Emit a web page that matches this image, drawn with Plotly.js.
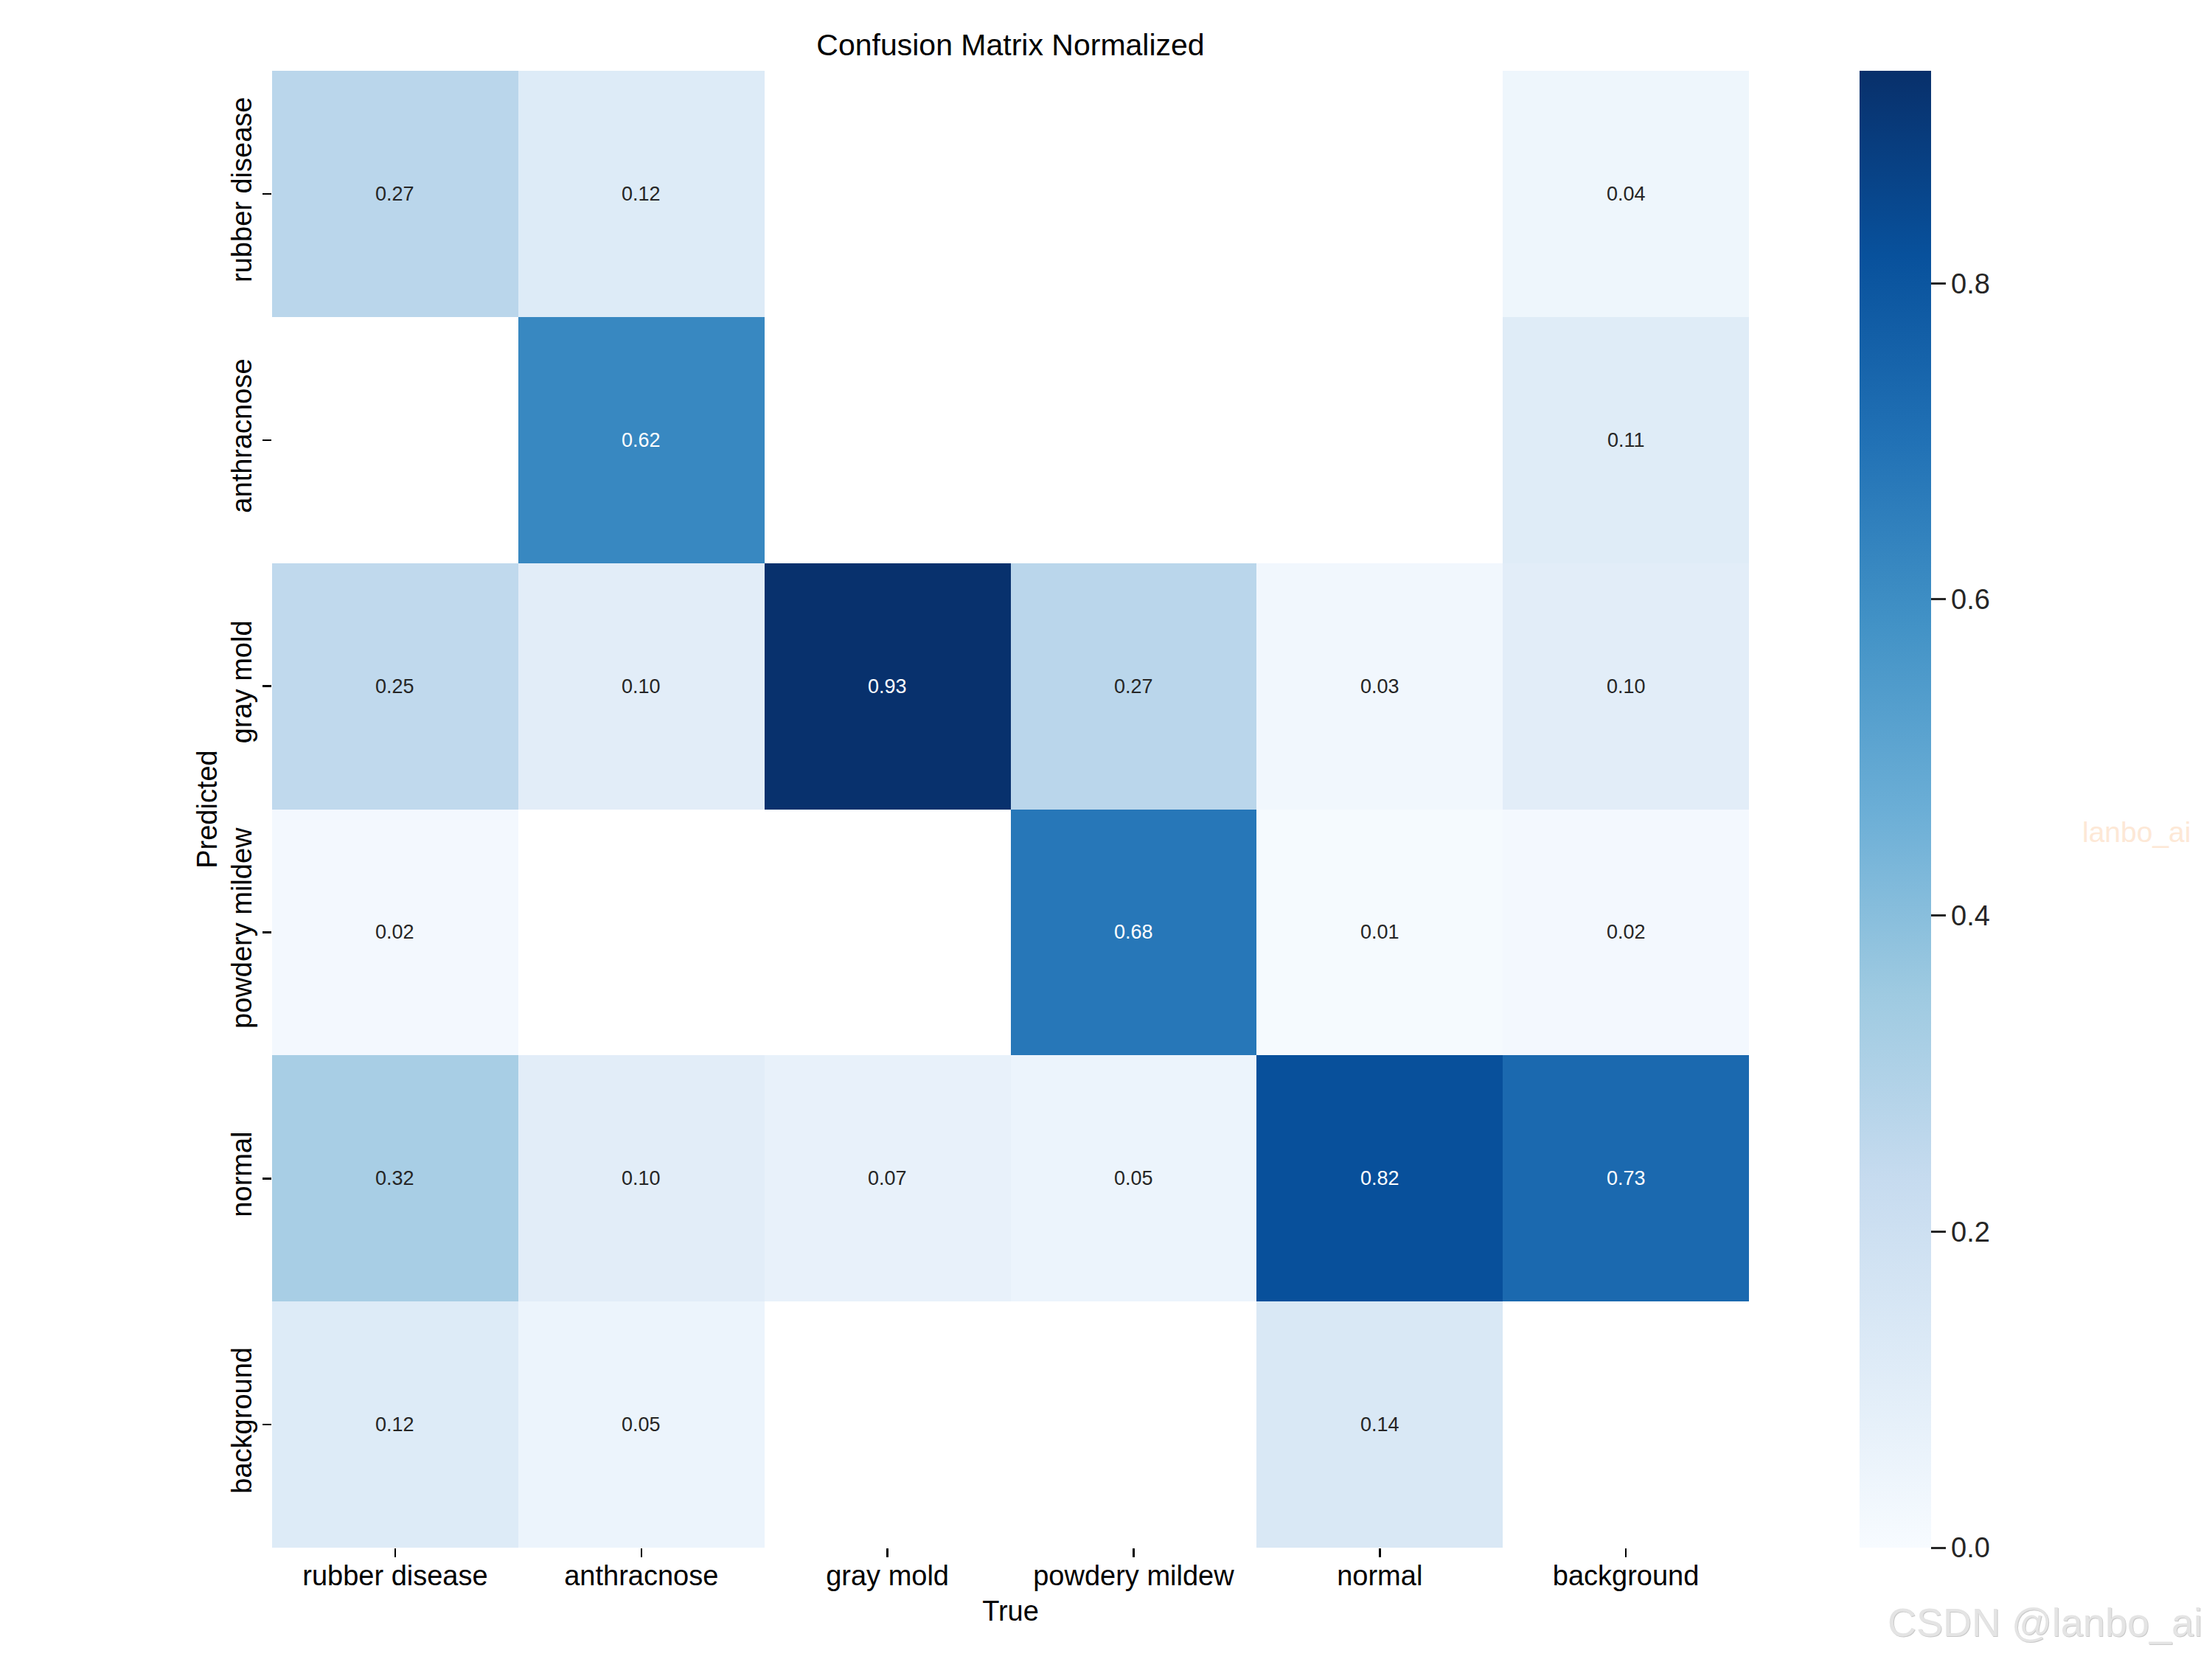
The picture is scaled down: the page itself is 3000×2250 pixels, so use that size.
<!DOCTYPE html>
<html>
<head>
<meta charset="utf-8">
<script src="https://cdn.plot.ly/plotly-3.0.1.min.js"></script>
<style>html,body{margin:0;padding:0;background:#fff;}#chart{width:3000px;height:2250px;}</style>
</head>
<body>
<div id="chart"></div>
<script>
// Column labels (True) and row labels (Predicted)
const trueLabels = ["rubber disease", "anthracnose", "gray mold", "powdery mildew", "normal", "background"];
const predLabels = ["rubber disease", "anthracnose", "gray mold", "powdery mildew", "normal", "background"];

// Normalized confusion-matrix rows (Predicted), null = empty (white) cell
const rowRubberDisease = [0.27, 0.12, null, null, null, 0.04];
const rowAnthracnose   = [null, 0.62, null, null, null, 0.11];
const rowGrayMold      = [0.25, 0.10, 0.93, 0.27, 0.03, 0.10];
const rowPowderyMildew = [0.02, null, null, 0.68, 0.01, 0.02];
const rowNormal        = [0.32, 0.10, 0.07, 0.05, 0.82, 0.73];
const rowBackground    = [0.12, 0.05, null, null, 0.14, null];

const colorbarTicks = [0, 0.2, 0.4, 0.6, 0.8];
const colorMax = 0.9345;

const z = [rowRubberDisease, rowAnthracnose, rowGrayMold, rowPowderyMildew, rowNormal, rowBackground];

const blues = [
  [0.0, "#f7fbff"], [0.125, "#deebf7"], [0.25, "#c6dbef"], [0.375, "#9ecae1"],
  [0.5, "#6baed6"], [0.625, "#4292c6"], [0.75, "#2171b5"], [0.875, "#08519c"], [1.0, "#08306b"]
];

const FONT = "Liberation Sans, Arial, Helvetica, sans-serif";

const annotations = [];
z.forEach((row, i) => {
  row.forEach((v, j) => {
    if (v === null) return;
    annotations.push({
      x: trueLabels[j], y: predLabels[i], xref: "x", yref: "y",
      text: v.toFixed(2), showarrow: false,
      font: {family: FONT, size: 27, color: (v / colorMax) > 0.55 ? "#ffffff" : "#262626"}
    });
  });
});

// watermarks
annotations.push({
  xref: "paper", yref: "paper", x: 1.2625, y: 0.4846, xanchor: "center", yanchor: "middle",
  text: "lanbo_ai", showarrow: false, font: {family: FONT, size: 39, color: "#fde8d6"}
});
annotations.push({
  xref: "paper", yref: "paper", x: 1.2010, y: -0.0509, xanchor: "center", yanchor: "middle",
  text: "CSDN @lanbo_ai", showarrow: false, font: {family: FONT, size: 54, color: "#c9c9c9"}
});
annotations.push({
  xref: "paper", yref: "paper", x: 1.2005, y: -0.0504, xanchor: "center", yanchor: "middle",
  text: "CSDN @lanbo_ai", showarrow: false, font: {family: FONT, size: 54, color: "#e4e4e4"}
});

const trace = {
  type: "heatmap",
  x: trueLabels,
  y: predLabels,
  z: z,
  zmin: 0,
  zmax: colorMax,
  colorscale: blues,
  hoverinfo: "skip",
  xgap: 0, ygap: 0,
  colorbar: {
    x: 1.0749, xref: "paper", xanchor: "left", xpad: 0,
    y: 0.5, yanchor: "middle", ypad: 0,
    len: 1, lenmode: "fraction",
    thickness: 97, thicknessmode: "pixels",
    outlinewidth: 0,
    tickvals: colorbarTicks,
    tickformat: ".1f",
    ticks: "outside", ticklen: 20, tickwidth: 3, tickcolor: "#262626",
    tickfont: {family: FONT, size: 38, color: "#262626"}
  }
};

const layout = {
  width: 3000, height: 2250,
  paper_bgcolor: "#ffffff", plot_bgcolor: "#ffffff",
  margin: {l: 369, r: 628, t: 96, b: 151, pad: 0},
  font: {family: FONT, color: "#000000"},
  title: {
    text: "Confusion Matrix Normalized",
    font: {family: FONT, size: 41, color: "#000000"},
    xref: "paper", x: 0.5, xanchor: "center",
    yref: "container", y: 0.9730, yanchor: "middle"
  },
  xaxis: {
    type: "category",
    showgrid: false, zeroline: false, showline: false,
    ticks: "outside", ticklen: 12, tickwidth: 2.5, tickcolor: "#000000",
    ticklabelstandoff: -8,
    tickfont: {family: FONT, size: 38, color: "#000000"},
    title: {text: "True", font: {family: FONT, size: 38, color: "#000000"}, standoff: 14},
    automargin: false
  },
  yaxis: {
    type: "category",
    autorange: "reversed",
    showgrid: false, zeroline: false, showline: false,
    ticks: "outside", ticklen: 12, tickwidth: 2.5, tickcolor: "#000000",
    tickangle: -90,
    tickfont: {family: FONT, size: 38, color: "#000000"},
    title: {text: "Predicted", font: {family: FONT, size: 38, color: "#000000"}, standoff: 0},
    automargin: false
  },
  annotations: annotations,
  showlegend: false
};

Plotly.newPlot("chart", [trace], layout, {staticPlot: true, displayModeBar: false});
</script>
</body>
</html>
